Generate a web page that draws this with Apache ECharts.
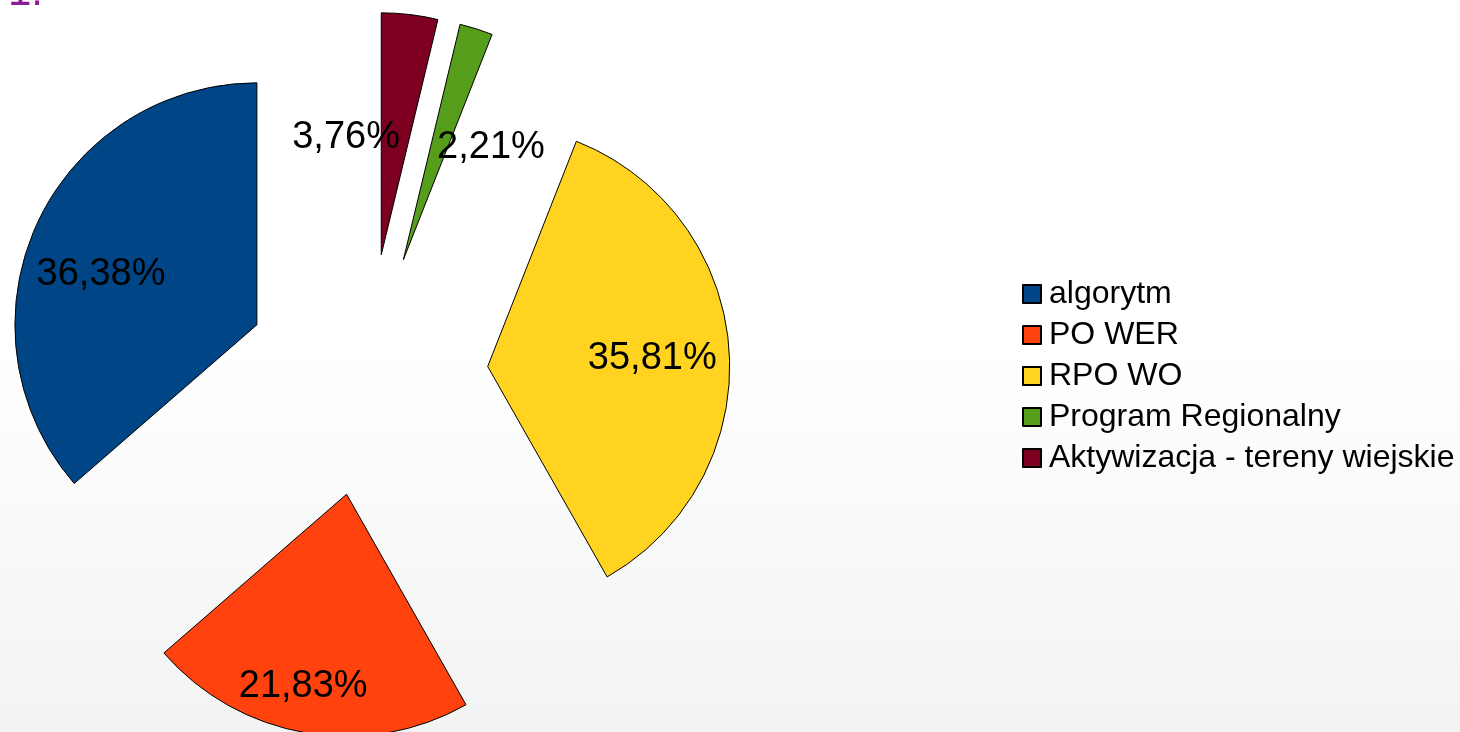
<!DOCTYPE html>
<html>
<head>
<meta charset="utf-8">
<title>Udział programów</title>
<script src="https://cdn.jsdelivr.net/npm/echarts@6/dist/echarts.min.js"></script>
<style>
  html, body { margin: 0; padding: 0; }
  #chart { width: 1460px; height: 732px; }
</style>
</head>
<body>
<div id="chart"></div>
<script>
// dane (w procentach)
const categories = ['algorytm', 'PO WER', 'RPO WO', 'Program Regionalny', 'Aktywizacja - tereny wiejskie'];
const shares = [36.38, 21.83, 35.81, 2.21, 3.76];
const colors = ['#004586', '#ff420e', '#ffd320', '#579d1c', '#7e0021'];

// przesunięcia etykiet (LibreOffice układa je trochę inaczej)
const labelNudge = {
  'algorytm': [-3, 19],
  'PO WER': [-15, 27],
  'RPO WO': [-3, 4],
  'Program Regionalny': [37, 48],
  'Aktywizacja - tereny wiejskie': [-55, 50]
};

const chart = echarts.init(document.getElementById('chart'));
const font = 'Liberation Sans';

const pieBase = {
  type: 'pie',
  center: [367, 375],
  startAngle: 90,
  clockwise: false,
  selectedMode: 'multiple',
  selectedOffset: 121,
  silent: true,
  animation: false,
  emphasis: { disabled: true },
  labelLine: { show: false }
};

chart.setOption({
  backgroundColor: {
    type: 'linear', x: 0, y: 0, x2: 0, y2: 1,
    colorStops: [
      { offset: 0, color: '#ffffff' },
      { offset: 0.47, color: '#ffffff' },
      { offset: 1, color: '#f2f3f3' }
    ]
  },
  textStyle: { fontFamily: font },
  // końcówka tytułu slajdu, ucięta u góry
  graphic: [{
    type: 'text',
    left: 8,
    top: -28,
    style: { text: '1.', fill: '#8e1c98', fontSize: 42, fontFamily: font }
  }],
  legend: {
    orient: 'vertical',
    left: 1022,
    top: 278,
    itemWidth: 18,
    itemHeight: 18,
    itemGap: 9,
    padding: 0,
    icon: 'rect',
    selectedMode: false,
    data: categories,
    textStyle: { fontSize: 32, color: '#000', fontFamily: font, padding: [0, 0, 0, 3] }
  },
  series: [
    Object.assign({}, pieBase, {
      name: 'udział',
      radius: [0, 242],
      label: { show: false },
      itemStyle: { borderColor: '#000', borderWidth: 1 },
      data: categories.map((name, i) => ({
        name: name,
        value: shares[i],
        selected: true,
        itemStyle: { color: colors[i] },
        select: { itemStyle: { color: colors[i], borderColor: '#000', borderWidth: 1 } }
      }))
    }),
    Object.assign({}, pieBase, {
      name: 'etykiety',
      radius: [88, 242],
      itemStyle: { color: 'rgba(0,0,0,0)', borderWidth: 0 },
      select: { itemStyle: { color: 'rgba(0,0,0,0)', borderWidth: 0 } },
      label: {
        show: true,
        position: 'inside',
        color: '#000',
        fontSize: 38,
        fontFamily: font,
        formatter: p => p.value.toFixed(2).replace('.', ',') + '%'
      },
      labelLayout: params => {
        const n = labelNudge[categories[params.dataIndex]] || [0, 0];
        return { dx: n[0], dy: n[1] };
      },
      data: categories.map((name, i) => ({
        name: name,
        value: shares[i],
        selected: true
      }))
    })
  ]
});

window.onresize = () => chart.resize();
</script>
</body>
</html>
